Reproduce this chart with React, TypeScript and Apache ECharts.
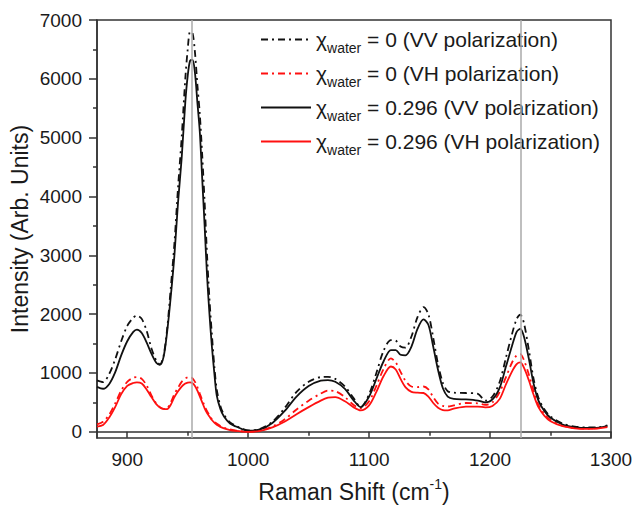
import React, { useEffect, useRef } from 'react';
import * as echarts from 'echarts';

// Raman shift (cm-1) sample positions shared by all four spectra
const ramanShift = [
  875, 880, 885, 890, 895, 900, 905, 908, 912, 916, 920, 924, 927, 930, 933, 936, 939, 942, 945, 948,
  950, 952, 954, 956, 958, 960, 962, 964, 966, 968, 970, 972, 974, 977, 980, 985, 990, 995, 1000, 1010,
  1020, 1030, 1040, 1050, 1060, 1066, 1072, 1080, 1087, 1093, 1100, 1106, 1112, 1118, 1122, 1126, 1130, 1135, 1140, 1145,
  1149, 1153, 1157, 1161, 1165, 1170, 1180, 1190, 1196, 1202, 1208, 1213, 1218, 1222, 1225, 1228, 1232, 1236, 1240, 1245,
  1250, 1260, 1270, 1280, 1290, 1297,
];

// χwater = 0, VV polarization (black dash-dot)
const vvWater0 = [
  874, 845, 980, 1230, 1540, 1800, 1940, 1975, 1920, 1720, 1420, 1210, 1145, 1290, 1750, 2450, 3200, 4150, 5000, 6000,
  6500, 6800, 6780, 6450, 5900, 5400, 4700, 3900, 3000, 2250, 1650, 1120, 720, 440, 290, 160, 100, 55, 25, 50,
  170, 400, 680, 850, 930, 935, 900, 770, 580, 420, 640, 1000, 1380, 1560, 1550, 1450, 1430, 1620, 1950, 2120,
  2000, 1600, 1150, 830, 690, 665, 660, 645, 530, 600, 850, 1250, 1650, 1920, 1990, 1850, 1400, 900, 580, 380,
  260, 140, 90, 75, 80, 110,
];

// χwater = 0, VH polarization (red dash-dot)
const vhWater0 = [
  125, 170, 290, 480, 700, 850, 920, 930, 900, 790, 620, 480, 420, 390, 400, 500, 640, 750, 850, 905,
  925, 930, 910, 850, 760, 650, 540, 440, 350, 280, 215, 170, 140, 100, 70, 40, 22, 10, 5, 25,
  90, 210, 380, 530, 650, 700, 690, 590, 460, 400, 520, 780, 1070, 1250, 1180, 1020, 870, 770, 760, 770,
  720, 590, 480, 440, 430, 450, 490, 485, 460, 500, 680, 920, 1170, 1300, 1320, 1220, 980, 700, 460, 300,
  200, 105, 65, 55, 65, 90,
];

// χwater = 0.296, VV polarization (black solid)
const vvWater296 = [
  765, 732, 810, 1010, 1300, 1540, 1700, 1738, 1680, 1520, 1330, 1175, 1140, 1270, 1700, 2300, 3000, 3900, 4650, 5600,
  6050, 6310, 6320, 6100, 5600, 5100, 4300, 3500, 2650, 2000, 1450, 1000, 620, 390, 260, 140, 90, 45, 20, 40,
  150, 350, 600, 780, 870, 880, 850, 730, 540, 420, 600, 900, 1200, 1390, 1390, 1310, 1300, 1450, 1750, 1910,
  1820, 1450, 1050, 740, 600, 560, 550, 530, 500, 550, 750, 1100, 1450, 1700, 1750, 1620, 1250, 820, 530, 350,
  240, 125, 80, 65, 70, 100,
];

// χwater = 0.296, VH polarization (red solid)
const vhWater296 = [
  90, 115, 240, 420, 640, 780, 830, 840, 820, 720, 590, 470, 415, 390, 385, 460, 590, 690, 770, 820,
  838, 842, 825, 780, 700, 600, 500, 400, 320, 260, 200, 155, 120, 85, 60, 30, 15, 5, 0, 15,
  75, 170, 300, 420, 530, 580, 590, 520, 420, 365, 450, 680, 950, 1110, 1060, 900, 760, 680, 665, 660,
  600, 490, 410, 370, 365, 395, 430, 430, 415, 440, 560, 800, 1020, 1150, 1180, 1090, 880, 630, 420, 270,
  180, 95, 60, 50, 60, 80,
];

const referenceShifts = [953, 1225];
const xTickValues = [900, 1000, 1100, 1200, 1300];
const xMinorTickValues = [950, 1050, 1150, 1250];
const yTickValues = [0, 1000, 2000, 3000, 4000, 5000, 6000, 7000];
const yMinorTickValues = [500, 1500, 2500, 3500, 4500, 5500, 6500];
const legendSuffixes = [
  '= 0 (VV polarization)',
  '= 0 (VH polarization)',
  '= 0.296 (VV polarization)',
  '= 0.296 (VH polarization)',
];

const FONT = '"Liberation Sans", Arial, Helvetica, sans-serif';
const BLACK = '#111111';
const RED = '#ff1010';
const DASH_DOT = [7, 4, 2, 4];

export default function App() {
  const ref = useRef<HTMLDivElement>(null);

  useEffect(() => {
    if (!ref.current) return;
    const chart = echarts.init(ref.current, null, { renderer: 'svg' });
    const pair = (ys: number[]) => ramanShift.map((x, i) => [x, ys[i]]);
    const specs = [
      { data: vvWater0, color: BLACK, dash: DASH_DOT },
      { data: vhWater0, color: RED, dash: DASH_DOT },
      { data: vvWater296, color: BLACK, dash: 'solid' },
      { data: vhWater296, color: RED, dash: 'solid' },
    ];
    const names = legendSuffixes.map((s) => 'χwater ' + s);

    const series: any[] = specs.map((s, i) => ({
      name: names[i],
      type: 'line',
      xAxisIndex: 0,
      yAxisIndex: 0,
      data: pair(s.data),
      symbol: 'none',
      smooth: 0.3,
      z: 3,
      lineStyle: { color: s.color, width: 1.8, type: s.dash },
      itemStyle: { color: s.color },
    }));
    series.push({
      name: 'refs',
      type: 'line',
      data: [],
      xAxisIndex: 0,
      yAxisIndex: 0,
      z: 1,
      markLine: {
        silent: true,
        symbol: 'none',
        label: { show: false },
        lineStyle: { color: '#aaaaaa', width: 1.5, type: 'solid' },
        data: referenceShifts.map((v) => ({ xAxis: v })),
      },
    });

    const plain = (v: number) => String(v);

    chart.setOption({
      animation: false,
      backgroundColor: '#ffffff',
      textStyle: { fontFamily: FONT },
      grid: {
        left: 97,
        right: 23,
        top: 20,
        bottom: 68,
        containLabel: false,
        outerBoundsMode: 'none',
        show: true,
        borderColor: '#333',
        borderWidth: 1.5,
        backgroundColor: 'transparent',
      },
      legend: {
        data: names,
        orient: 'vertical',
        left: 260,
        top: 24,
        padding: 0,
        itemWidth: 50,
        itemHeight: 14,
        itemGap: 3,
        itemStyle: { opacity: 0 },
        formatter: (name: string) => {
          const rest = name.replace('χwater ', '');
          return '{chi|χ}{sub|water}{txt| ' + rest + '}';
        },
        textStyle: {
          fontFamily: FONT,
          color: '#1a1a1a',
          rich: {
            chi: { fontSize: 21, lineHeight: 24, fontFamily: FONT, color: '#1a1a1a' },
            sub: { fontSize: 14, lineHeight: 14, padding: [17, 0, 0, 0], fontFamily: FONT, color: '#1a1a1a' },
            txt: { fontSize: 21, lineHeight: 24, fontFamily: FONT, color: '#1a1a1a' },
          },
        },
      },
      xAxis: [
        {
          type: 'value',
          min: 875,
          max: 1300,
          position: 'bottom',
          name: '{a|Raman Shift (cm}{sup|-1}{a|)}',
          nameLocation: 'middle',
          nameGap: 39,
          nameMoveOverlap: false,
          nameTextStyle: {
            rich: {
              a: { fontSize: 23, fontFamily: FONT, color: '#1a1a1a' },
              sup: { fontSize: 14, fontFamily: FONT, color: '#1a1a1a', padding: [0, 0, 16, 0] },
            },
          },
          axisLine: { show: true, lineStyle: { color: '#333', width: 1.5 } },
          axisTick: { show: true, customValues: xTickValues, length: 6, inside: false, lineStyle: { color: '#333', width: 1.5 } },
          axisLabel: { customValues: xTickValues, formatter: plain, fontSize: 19, margin: 12, color: '#1a1a1a', fontFamily: FONT },
          splitLine: { show: false },
        },
        {
          type: 'value',
          min: 875,
          max: 1300,
          position: 'bottom',
          axisLine: { show: false },
          axisTick: { show: true, customValues: xMinorTickValues, length: 4, lineStyle: { color: '#333', width: 1.5 } },
          axisLabel: { show: false },
          splitLine: { show: false },
        },
      ],
      yAxis: [
        {
          type: 'value',
          min: -105,
          max: 7000,
          position: 'left',
          name: 'Intensity (Arb. Units)',
          nameLocation: 'middle',
          nameGap: 66,
          nameMoveOverlap: false,
          nameTextStyle: { fontSize: 23, fontFamily: FONT, color: '#1a1a1a' },
          axisLine: { show: true, lineStyle: { color: '#333', width: 1.5 } },
          axisTick: { show: true, customValues: yTickValues, length: 8, lineStyle: { color: '#333', width: 1.5 } },
          axisLabel: { customValues: yTickValues, formatter: plain, fontSize: 19, margin: 15, color: '#1a1a1a', fontFamily: FONT },
          splitLine: { show: false },
        },
        {
          type: 'value',
          min: -105,
          max: 7000,
          position: 'left',
          axisLine: { show: false },
          axisTick: { show: true, customValues: yMinorTickValues, length: 4, lineStyle: { color: '#333', width: 1.5 } },
          axisLabel: { show: false },
          splitLine: { show: false },
        },
      ],
      series,
    });

    return () => chart.dispose();
  }, []);

  return (
    <div
      ref={ref}
      style={{ position: 'fixed', left: 0, top: 0, width: 634, height: 506, background: '#fff' }}
    />
  );
}
